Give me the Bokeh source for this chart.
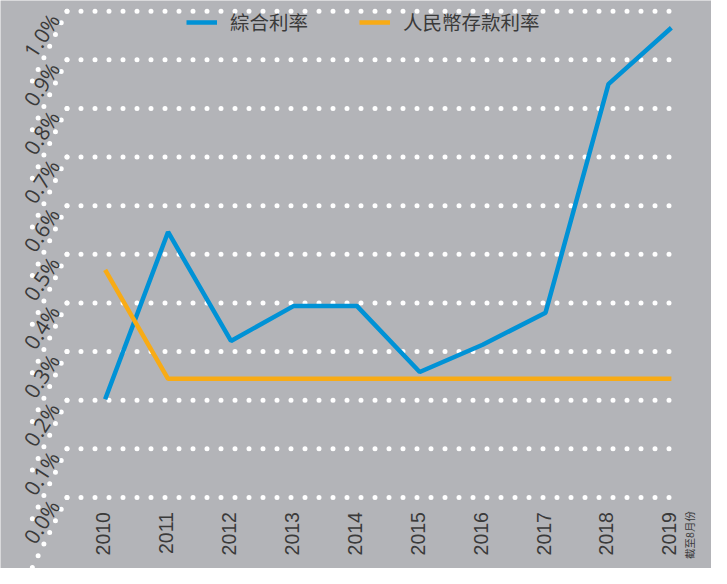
import math
from bokeh.plotting import figure
from bokeh.models import Range1d, Legend, LegendItem
from bokeh.core.properties import value
from bokeh.embed import file_html
from bokeh.resources import INLINE

# ---------------- data ----------------
years = ["2010", "2011", "2012", "2013", "2014", "2015", "2016", "2017", "2018", "2019"]
composite_rate = [0.202, 0.546, 0.322, 0.394, 0.394, 0.258, 0.314, 0.380, 0.850, 0.966]
rmb_deposit_rate = [0.468, 0.244, 0.244, 0.244, 0.244, 0.244, 0.244, 0.244, 0.244, 0.244]
y_ticks = [0.0, 0.1, 0.2, 0.3, 0.4, 0.5, 0.6, 0.7, 0.8, 0.9, 1.0]
y_tick_labels = ["0.0%", "0.1%", "0.2%", "0.3%", "0.4%", "0.5%", "0.6%", "0.7%", "0.8%", "0.9%", "1.0%"]
series_names = ["綜合利率", "人民幣存款利率"]
note_2019 = "截至8月份"

# ---------------- layout (pixels) ----------------
W, H = 711, 568
SX, SY = W / 727.0, H / 584.0
X0_PX = 107.0 * SX      # canvas x of first category
DX_PX = 64.33 * SX      # px per category
Y0_PX = 511.0 * SY      # canvas y of 0 %
DY_PX = 500.0 * SY      # px per 1 %

BG = "#b3b4b8"
BLUE = "#0092d6"
ORANGE = "#f8ab15"
TXT = "#3a3a3a"

x_idx = list(range(len(years)))

p = figure(width=W, height=H,
           x_range=Range1d(-X0_PX / DX_PX, (W - X0_PX) / DX_PX),
           y_range=Range1d(-(H - Y0_PX) / DY_PX, Y0_PX / DY_PX),
           x_axis_location=None, y_axis_location=None,
           min_border=0, toolbar_location=None, output_backend="svg",
           background_fill_color=BG, border_fill_color=BG,
           outline_line_color=None)
p.grid.visible = False

def px2x(px):
    return (px * SX - X0_PX) / DX_PX

grid_left = px2x(68)
grid_right = px2x(692)

# dotted horizontal grid lines
p.segment(x0=[grid_left] * len(y_ticks), y0=y_ticks,
          x1=[grid_right] * len(y_ticks), y1=y_ticks,
          line_color="white", line_width=5, line_dash="0 14", line_cap="round")

# slanted dotted stubs at the left of each grid line
diag_dx = -36.0 * SX / DX_PX
diag_dy = -73.0 * SY / DY_PX
p.segment(x0=[grid_left] * len(y_ticks), y0=y_ticks,
          x1=[grid_left + diag_dx] * len(y_ticks), y1=[v + diag_dy for v in y_ticks],
          line_color="white", line_width=5, line_dash="0 13", line_cap="round")

# y tick labels (slanted)
p.text(x=px2x(42), y=y_ticks, text=y_tick_labels, angle=math.radians(57),
       y_offset=25 * SY, text_align="center", text_baseline="middle",
       text_font=value("Open Sans"), text_font_size="21px", text_color=TXT)

# x tick labels (vertical)
p.text(x=x_idx, y=0.0, text=years, angle=math.pi / 2,
       y_offset=15 * SY, x_offset=-2, text_align="right", text_baseline="middle",
       text_font=value("Liberation Sans"), text_font_size="19.5px", text_color=TXT)

p.text(x=x_idx[-1], y=0.0, text=[note_2019], angle=math.pi / 2,
       y_offset=14 * SY, x_offset=19 * SX, text_align="right", text_baseline="middle",
       text_font=value("Noto Sans CJK TC"), text_font_size="10.5px", text_color=TXT)

# series
r1 = p.line(x_idx, composite_rate, line_color=BLUE, line_width=4.5)
r2 = p.line(x_idx, rmb_deposit_rate, line_color=ORANGE, line_width=4.5)

legend = Legend(items=[LegendItem(label=series_names[0], renderers=[r1]),
                       LegendItem(label=series_names[1], renderers=[r2])],
                location=(round(190 * SX), round(H - 37 * SY)), orientation="horizontal",
                glyph_width=31, glyph_height=20, label_height=20,
                label_standoff=13, spacing=51, padding=0, margin=0,
                border_line_color=None, background_fill_alpha=0,
                label_text_font="Noto Sans CJK TC", label_text_font_size="19.5px",
                label_text_color=TXT)
p.add_layout(legend)

open("out.html", "w").write(file_html(p, INLINE))
